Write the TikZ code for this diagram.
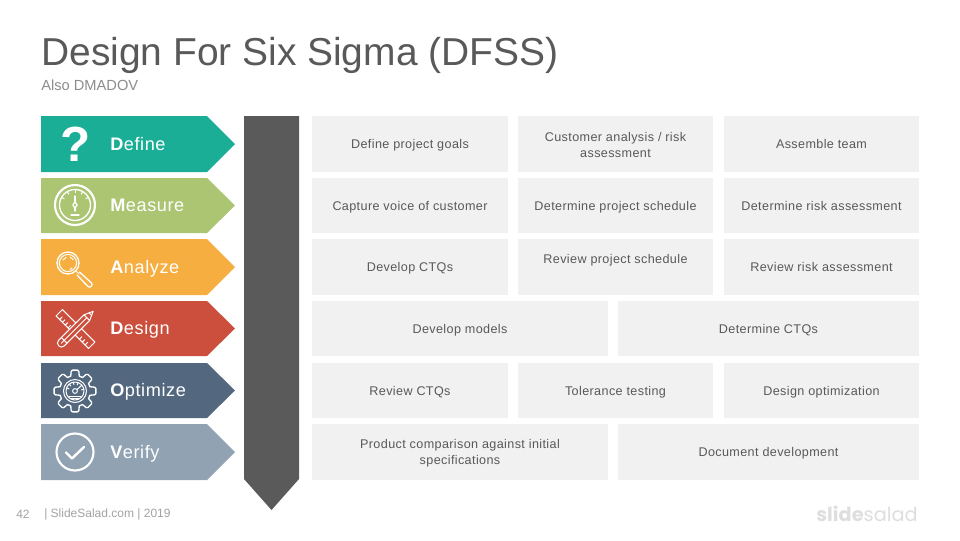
\documentclass[tikz,border=0pt]{standalone}
\usepackage{fontspec}
\setmainfont{Liberation Sans}
\newfontfamily\markfont{Poppins}
\usetikzlibrary{calc}
\definecolor{cTeal}{HTML}{1AAE96}
\definecolor{cGreen}{HTML}{ABC572}
\definecolor{cOrange}{HTML}{F5AE3F}
\definecolor{cRed}{HTML}{CB4F3C}
\definecolor{cNavy}{HTML}{53687F}
\definecolor{cSlate}{HTML}{91A2B3}
\definecolor{cBar}{HTML}{5A5A5A}
\definecolor{cCell}{HTML}{F1F1F1}
\definecolor{cText}{HTML}{595959}
\definecolor{cFoot}{HTML}{A3A3A3}
\definecolor{cMark}{HTML}{DEDEDE}
\newfontfamily\cellfont[LetterSpace=3]{Liberation Sans}
\newfontfamily\labelfont[LetterSpace=3.2]{Liberation Sans}
\tikzset{
  x=0.75pt,y=-0.75pt,
  cellbox/.style={fill=cCell,draw=none,inner sep=0pt},
  celltext/.style={inner sep=0pt,align=center,text=cText,font=\cellfont\fontsize{9.45}{12}\selectfont},
  steplabel/.style={inner sep=0pt,anchor=west,text=white,font=\labelfont\fontsize{13.6}{16}\selectfont},
  icon/.style={draw=white,line width=0.75pt,fill=none,line cap=round,line join=round},
  iconbold/.style={draw=white,line width=1.6pt,fill=none,line cap=round,line join=round},
}
\newcommand{\chev}[4]{\fill[#1] (41,#2) -- (207,#2) -- (235,{(#2+#3)/2}) -- (207,#3) -- (41,#3) -- cycle;
  \node[steplabel] (#1L) at (110,{(#2+#3)/2+2}) {\strut #4};}
% name, x1, y1, x2, y2, text y, text
\newcommand{\cellnode}[7]{%
  \pgfmathsetlengthmacro{\cw}{(#4-#2)*0.75pt}%
  \pgfmathsetlengthmacro{\ch}{(#5-#3)*0.75pt}%
  \node[cellbox,minimum width=\cw,minimum height=\ch] (#1) at ({(#2+#4)/2},{(#3+#5)/2}) {};
  \node[celltext] (#1T) at ({(#2+#4)/2},#6) {\strut #7\strut};}
\begin{document}
\begin{tikzpicture}
\useasboundingbox (0,0) rectangle (960,540);
\fill[white] (0,0) rectangle (960,540);
\node[anchor=base west,inner sep=0pt,text=cText,font=\fontsize{29.2}{34}\selectfont] (title) at (41,65.5) {Design For Six Sigma (DFSS)};
\node[anchor=base west,inner sep=0pt,text=cFoot!70!cText,font=\fontsize{11}{13}\selectfont] (sub) at (41,90.5) {Also DMADOV};
% chevrons
\chev{cTeal}{116}{172}{\textbf{D}efine}
\chev{cGreen}{178}{233}{\textbf{M}easure}
\chev{cOrange}{239}{295}{\textbf{A}nalyze}
\chev{cRed}{301}{356}{\textbf{D}esign}
\chev{cNavy}{363}{418}{\textbf{O}ptimize}
\chev{cSlate}{424}{480}{\textbf{V}erify}
% bar
\fill[cBar] (244,116) -- (299,116) -- (299,479) -- (271.5,510) -- (244,479) -- cycle;
% cells
\cellnode{a1}{312}{116}{508}{172}{145.3}{Define project goals}
\cellnode{a2}{518}{116}{713}{172}{146.3}{Customer analysis / risk\\assessment}
\cellnode{a3}{724}{116}{919}{172}{145.3}{Assemble team}
\cellnode{b1}{312}{178}{508}{233}{207.3}{Capture voice of customer}
\cellnode{b2}{518}{178}{713}{233}{207.3}{Determine project schedule}
\cellnode{b3}{724}{178}{919}{233}{207.3}{Determine risk assessment}
\cellnode{c1}{312}{239}{508}{295}{268.3}{Develop CTQs}
\cellnode{c2}{518}{239}{713}{295}{260.3}{Review project schedule}
\cellnode{c3}{724}{239}{919}{295}{268.3}{Review risk assessment}
\cellnode{d1}{312}{301}{608}{356}{330.3}{Develop models}
\cellnode{d2}{618}{301}{919}{356}{330.3}{Determine CTQs}
\cellnode{e1}{312}{363}{508}{418}{392.3}{Review CTQs}
\cellnode{e2}{518}{363}{713}{418}{392.3}{Tolerance testing}
\cellnode{e3}{724}{363}{919}{418}{392.3}{Design optimization}
\cellnode{f1}{312}{424}{608}{480}{{453.3}}{Product comparison  against initial\\specifications}
\cellnode{f2}{618}{424}{919}{480}{453.3}{Document development}
% icon: question mark
\node[inner sep=0pt,text=white,font=\bfseries\fontsize{37}{38}\selectfont] (qmark) at (76,144.5) {?};
% icon: gauge
\begin{scope}[shift={(75,205)}]
  \draw[iconbold] (0,0) circle (20);
  \draw[icon,line width=1pt] (0,0) circle (15.5);
  \foreach \a in {-150,-120,-90,-60,-30} \draw[icon] (\a:15.5) -- (\a:12.5);
  \draw[icon,line width=1pt] (0,-9) -- (0,-3);
  \draw[icon,line width=1pt] (0,-3) -- (-2.2,0) -- (0,3) -- (2.2,0) -- cycle;
  \draw[icon,line width=1pt] (0,3) -- (0,6);
  \draw[icon,line width=1pt] (-4,10) -- (4,10);
\end{scope}
% icon: magnifier
\begin{scope}[shift={(68,263)}]
  \draw[icon,line width=1pt] (0,0) circle (11);
  \draw[icon] (0,0) circle (8.6);
  \draw[icon] (-5,-3) arc (210:250:6);
  \draw[icon] (2,-6) arc (-70:-30:6);
  \draw[icon] (4,5) arc (40:60:7);
  \draw[icon] (8,8) -- (11,11);
  \draw[icon,line width=1pt] (11.5,9) -- (23.5,20) .. controls (25.5,22) and (22,25.5) .. (20,23.5) -- (9,12);
\end{scope}
% icon: ruler and pencil
\begin{scope}[shift={(75.5,329)},rotate=-45]
  \draw[icon] (-23,-4.5) rectangle (23,4.5);
  \foreach \x in {-18,-14,-10,-6,10,14,18} \draw[icon] (\x,4.5) -- (\x,1);
\end{scope}
\begin{scope}[shift={(75.5,329)},rotate=45]
  \fill[cRed] (-25,-4.2) rectangle (19,4.2);
  \draw[icon] (-20,-4) -- (16,-4) -- (25,0) -- (16,4) -- (-20,4) .. controls (-25,4) and (-25,-4) .. (-20,-4) -- cycle;
  \draw[icon] (-16,-4) -- (-16,4);
  \draw[icon] (-20,0) -- (16,0);
  \draw[icon] (16,-4) -- (16,4);
  \draw[icon] (21,-1.8) -- (21,1.8);
\end{scope}
% icon: gear
\begin{scope}[shift={(75,391)}]
  \draw[icon,line width=1pt] (-11:20)
    \foreach \a in {0,45,...,315} { -- (\a-11:20) -- (\a-7:21) -- (\a+7:21) -- (\a+11:20) -- (\a+16:15.5) -- (\a+29:15.5) } -- cycle;
  \draw[icon] (0,0) circle (11.5);
  \draw[icon] (0,0) circle (9);
  \foreach \a in {-160,-130,-100,-70,-40,-10} \draw[icon] (\a:9) -- (\a:6.5);
  \draw[icon] (0,0) circle (2.4);
  \draw[icon] (2,-1.5) -- (6,-5);
  \draw[icon] (-6,5) -- (6,5);
  \draw[icon] (-4,7.5) -- (4,7.5);
\end{scope}
% icon: check
\begin{scope}[shift={(75,452)}]
  \draw[iconbold] (0,0) circle (18.5);
  \draw[iconbold,line width=1.8pt] (-9,0.5) -- (-3,6.5) -- (9,-5);
\end{scope}
% footer
\node[anchor=west,inner sep=0pt,text=cFoot,font=\fontsize{9}{11}\selectfont] (pg) at (16,514) {42};
\node[anchor=west,inner sep=0pt,text=cFoot,font=\fontsize{9}{11}\selectfont] (foot) at (44,514) {| SlideSalad.com | 2019};
\node[anchor=east,inner sep=0pt,text=cMark,font=\markfont\fontsize{14.5}{20}\selectfont] (mark) at (918,514) {\textbf{slide}salad};
\end{tikzpicture}
\end{document}
